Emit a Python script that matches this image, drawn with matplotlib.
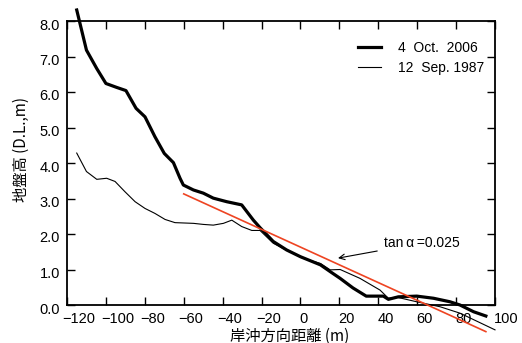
import matplotlib
matplotlib.use("Agg")
import matplotlib.pyplot as plt
import matplotlib.transforms as mtransforms

# Data
x_2006 = [-115, -110, -104.7, -100, -94.5, -89.7, -84.5, -79.9, -74.8, -70, -65.3, -61.9,
          -60.2, -55, -49.9, -44.8, -37.9, -30.2, -24.2, -20.8, -14, -7.1, 0, 10.3, 15.3,
          20.4, 27, 33.8, 42.6, 45.2, 50.3, 59.8, 68.4, 76.9, 82, 89, 95.3]
y_2006 = [8.31, 7.18, 6.66, 6.24, 6.13, 6.04, 5.54, 5.30, 4.74, 4.27, 4.01, 3.57,
          3.38, 3.24, 3.15, 3.01, 2.91, 2.82, 2.39, 2.18, 1.79, 1.55, 1.36, 1.13, 0.94,
          0.75, 0.48, 0.25, 0.25, 0.16, 0.23, 0.25, 0.19, 0.09, 0.0, -0.19, -0.31]

x_1987 = [-115, -110, -104.7, -99.6, -95.3, -90.2, -85, -79.9, -74.8, -69.6, -64.5, -55,
          -49.9, -44.8, -39.6, -35.3, -30.2, -25, -20.8, -14, -5.7, 1.7, 10.3, 15.3,
          20.4, 30.6, 40.9, 45.2, 49.5, 59.8, 71.8, 82, 100]
y_1987 = [4.28, 3.76, 3.54, 3.57, 3.48, 3.19, 2.91, 2.72, 2.58, 2.41, 2.32, 2.30,
          2.27, 2.25, 2.30, 2.39, 2.21, 2.10, 2.10, 1.74, 1.50, 1.31, 1.17, 0.99,
          1.0, 0.75, 0.42, 0.19, 0.22, 0.09, -0.05, -0.23, -0.70]

slope_x = [-60, 95.3]
slope_y = [3.13, -0.75]

x_ticks = [-120, -100, -80, -60, -40, -20, 0, 20, 40, 60, 80, 100]
y_ticks = [0, 1, 2, 3, 4, 5, 6, 7, 8]
labels = ["4  Oct.  2006", "12  Sep. 1987"]

plt.rcParams['font.family'] = ['Liberation Sans', 'Noto Sans CJK JP', 'DejaVu Sans']

fig = plt.figure(figsize=(5.22, 3.43), dpi=100)
ax = fig.add_axes([67/522, 38/343, 428/522, 284/343])

ax.plot(x_2006, y_2006, color='black', lw=2.3, clip_on=False, label=labels[0], zorder=3)
ax.plot(x_1987, y_1987, color='black', lw=0.8, clip_on=False, label=labels[1], zorder=3)
ax.plot(slope_x, slope_y, color='#EE4422', lw=1.2, clip_on=False, zorder=4)

ax.set_xlim(-120, 100)
ax.set_ylim(0, 8)
ax.set_xticks(x_ticks)
ax.set_yticks(y_ticks)
ax.set_yticklabels([f"{v:.1f}" for v in y_ticks])
ax.set_xticklabels([str(v).replace('-', '\u2212') for v in x_ticks])

ax.tick_params(direction='in', length=6, width=1, top=True, right=True,
               labelsize=10.5, pad=5)
for s in ax.spines.values():
    s.set_linewidth(1.3)

# tick label positioning like the reference
for v, lab in zip(x_ticks, ax.get_xticklabels()):
    lab.set_horizontalalignment('left')
    dx = -5 if v < 0 else -1
    lab.set_transform(lab.get_transform() + mtransforms.ScaledTranslation(dx/100, 0, fig.dpi_scale_trans))
for lab in ax.get_yticklabels():
    lab.set_transform(lab.get_transform() + mtransforms.ScaledTranslation(0, -3/100, fig.dpi_scale_trans))

leg = ax.legend(loc='upper right', bbox_to_anchor=(0.975, 0.93), frameon=False,
                fontsize=10, handlelength=1.7, handletextpad=1.2, labelspacing=0.45,
                borderpad=0, borderaxespad=0)

ax.annotate('tan\u2009\u03b1\u2009=0.025', xy=(19.3, 1.32), xytext=(43, 1.75),
            fontsize=10, va='center', ha='left',
            arrowprops=dict(arrowstyle='->', color='black', lw=0.8, shrinkA=3, shrinkB=0))

fig.text(21/522, 1 - 150/343, '地盤高 (D.L.,m)', rotation=90, ha='center', va='center',
         fontsize=11, family=['Noto Sans CJK JP', 'Liberation Sans'])
fig.text(290/522, 1 - 336/343, '岸沖方向距離 (m)', ha='center', va='center',
         fontsize=11, family=['Noto Sans CJK JP', 'Liberation Sans'])

fig.savefig('out.png', dpi=100)
